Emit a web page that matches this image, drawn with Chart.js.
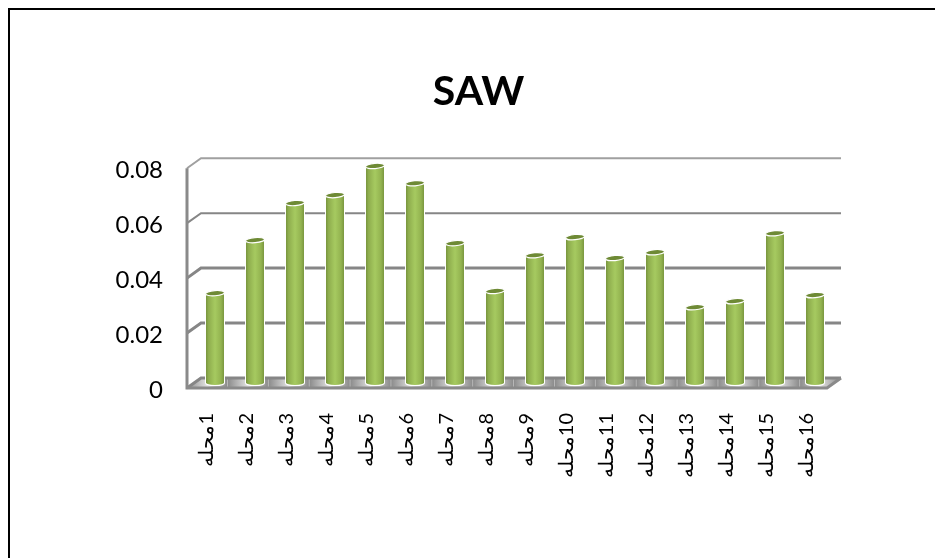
<!DOCTYPE html>
<html>
<head>
<meta charset="utf-8">
<title>SAW</title>
<script src="https://cdn.jsdelivr.net/npm/chart.js@4"></script>
<style>
  html, body { margin: 0; height: 100%; overflow: hidden; background: #fff; }
  #frame { position: absolute; left: 8px; top: 8px; width: 940px; height: 560px; border: 2px solid #000; box-sizing: content-box; }
  canvas { display: block; }
</style>
</head>
<body>
<div id="frame"><canvas id="chart" width="937" height="548"></canvas></div>
<script>
const categories = ['محله1', 'محله2', 'محله3', 'محله4', 'محله5', 'محله6', 'محله7', 'محله8',
  'محله9', 'محله10', 'محله11', 'محله12', 'محله13', 'محله14', 'محله15', 'محله16'];
const sawValues = [0.0327, 0.052, 0.0655, 0.0684, 0.079, 0.0727, 0.0509, 0.0335,
  0.0465, 0.0531, 0.0455, 0.0476, 0.0276, 0.0298, 0.0545, 0.032];
const yTicks = [0, 0.02, 0.04, 0.06, 0.08];
const gridWidths = [3, 3, 3, 2, 2];

// fake 3d box: how far the back wall sits from the front plane
const depthX = 14, depthY = -10;
const barShiftX = 8, barShiftY = -5;
const BAR_PCT = 0.5;

function barGradient(context) {
  const chart = context.chart;
  const xs = chart.scales.x;
  if (!xs || context.dataIndex === undefined) return '#9bbb59';
  const cx = xs.getPixelForValue(context.dataIndex);
  const w = xs.width / categories.length * BAR_PCT;
  if (!isFinite(cx) || !isFinite(w)) return '#9bbb59';
  const g = chart.ctx.createLinearGradient(cx - w / 2, 0, cx + w / 2, 0);
  g.addColorStop(0, '#6f8b38');
  g.addColorStop(0.18, '#8fae4e');
  g.addColorStop(0.5, '#a6ca60');
  g.addColorStop(0.8, '#93b350');
  g.addColorStop(1, '#728e3a');
  return g;
}

const box3d = {
  id: 'box3d',
  beforeDatasetsDraw(chart) {
    const { ctx, scales: { x, y } } = chart;
    const left = x.left, right = x.right;
    const y0 = y.getPixelForValue(0);
    ctx.save();

    // floor
    ctx.beginPath();
    ctx.moveTo(left, y0);
    ctx.lineTo(left + depthX, y0 + depthY);
    ctx.lineTo(right + depthX, y0 + depthY);
    ctx.lineTo(right, y0);
    ctx.closePath();
    ctx.fillStyle = '#bdbdbd';
    ctx.fill();
    ctx.save();
    ctx.clip();
    const bands = 16;
    for (let i = 0; i < bands; i++) {
      const bx = left + (right - left + depthX) * i / bands;
      const g = ctx.createLinearGradient(bx, 0, bx + 40, 0);
      g.addColorStop(0, '#8c8c8c');
      g.addColorStop(0.5, '#e2e2e2');
      g.addColorStop(1, '#8c8c8c');
      ctx.fillStyle = g;
      ctx.fillRect(bx, y0 + depthY, 40, -depthY);
    }
    ctx.restore();

    // back wall lines and the depth lines on the left side
    yTicks.forEach((v, i) => {
      const py = y.getPixelForValue(v);
      ctx.strokeStyle = i === yTicks.length - 1 ? '#a0a0a0' : '#868686';
      ctx.lineWidth = gridWidths[i];
      ctx.beginPath();
      ctx.moveTo(left, py);
      ctx.lineTo(left + depthX, py + depthY);
      ctx.lineTo(right + depthX, py + depthY);
      ctx.stroke();
    });

    // left post and front edge of the floor
    ctx.strokeStyle = '#8a8a8a';
    ctx.lineWidth = 3;
    ctx.beginPath();
    ctx.moveTo(left, y.getPixelForValue(0.08));
    ctx.lineTo(left, y0);
    ctx.lineTo(right, y0);
    ctx.lineTo(right + depthX, y0 + depthY);
    ctx.stroke();
    ctx.restore();
  },
  beforeDatasetDraw(chart) {
    const ctx = chart.ctx;
    ctx.save();
    ctx.translate(barShiftX, barShiftY);
  },
  afterDatasetDraw(chart, args) {
    const ctx = chart.ctx;
    args.meta.data.forEach((bar, i) => {
      const rx = bar.width / 2 - 0.5;
      // rounded foot
      ctx.beginPath();
      ctx.ellipse(bar.x, bar.base, rx, 2.5, 0, 0, Math.PI);
      ctx.fillStyle = barGradient({ chart, dataIndex: i });
      ctx.fill();
      ctx.strokeStyle = '#fff';
      ctx.lineWidth = 1.2;
      ctx.stroke();
      // cap
      ctx.beginPath();
      ctx.ellipse(bar.x, bar.y, rx, 2.6, -0.08, 0, Math.PI * 2);
      ctx.fillStyle = '#6e8a35';
      ctx.fill();
      ctx.strokeStyle = '#fff';
      ctx.stroke();
    });
    ctx.restore();
  }
};

new Chart(document.getElementById('chart'), {
  type: 'bar',
  data: {
    labels: categories,
    datasets: [{
      label: 'SAW',
      data: sawValues,
      backgroundColor: barGradient,
      borderColor: '#fff',
      borderWidth: 1,
      borderSkipped: 'bottom',
      barPercentage: BAR_PCT,
      categoryPercentage: 1
    }]
  },
  plugins: [box3d],
  options: {
    responsive: false,
    animation: false,
    plugins: {
      legend: { display: false },
      tooltip: { enabled: false },
      title: {
        display: true,
        text: 'SAW',
        color: '#000',
        font: { family: 'Lato', size: 41, weight: 'bold' },
        padding: { top: 57, bottom: 52 }
      }
    },
    scales: {
      x: {
        grid: { display: false, drawTicks: false },
        border: { display: false },
        afterFit(scale) { scale.height = 170; },
        ticks: {
          color: '#000',
          font: { family: 'Lato', size: 20 },
          minRotation: 90,
          maxRotation: 90,
          autoSkip: false,
          padding: 25,
          labelOffset: 0,
          // LRM keeps the number on the right of the word, as in the original
          callback(value) {
            return this.getLabelForValue(value).replace(/(\d+)$/, '\u200E$1');
          }
        }
      },
      y: {
        min: 0,
        max: 0.08,
        grid: { display: false, drawTicks: false },
        border: { display: false },
        afterFit(scale) { scale.width = 177; },
        ticks: {
          color: '#000',
          stepSize: 0.02,
          font: { family: 'Lato', size: 24 },
          padding: 24,
          labelOffset: 2
        }
      },
      // empty axis, only keeps the white space right of the plot
      spacer: {
        type: 'linear',
        position: 'right',
        grid: { display: false, drawTicks: false },
        border: { display: false },
        ticks: { display: false },
        afterFit(scale) { scale.width = 120; }
      }
    }
  }
});
</script>
</body>
</html>
